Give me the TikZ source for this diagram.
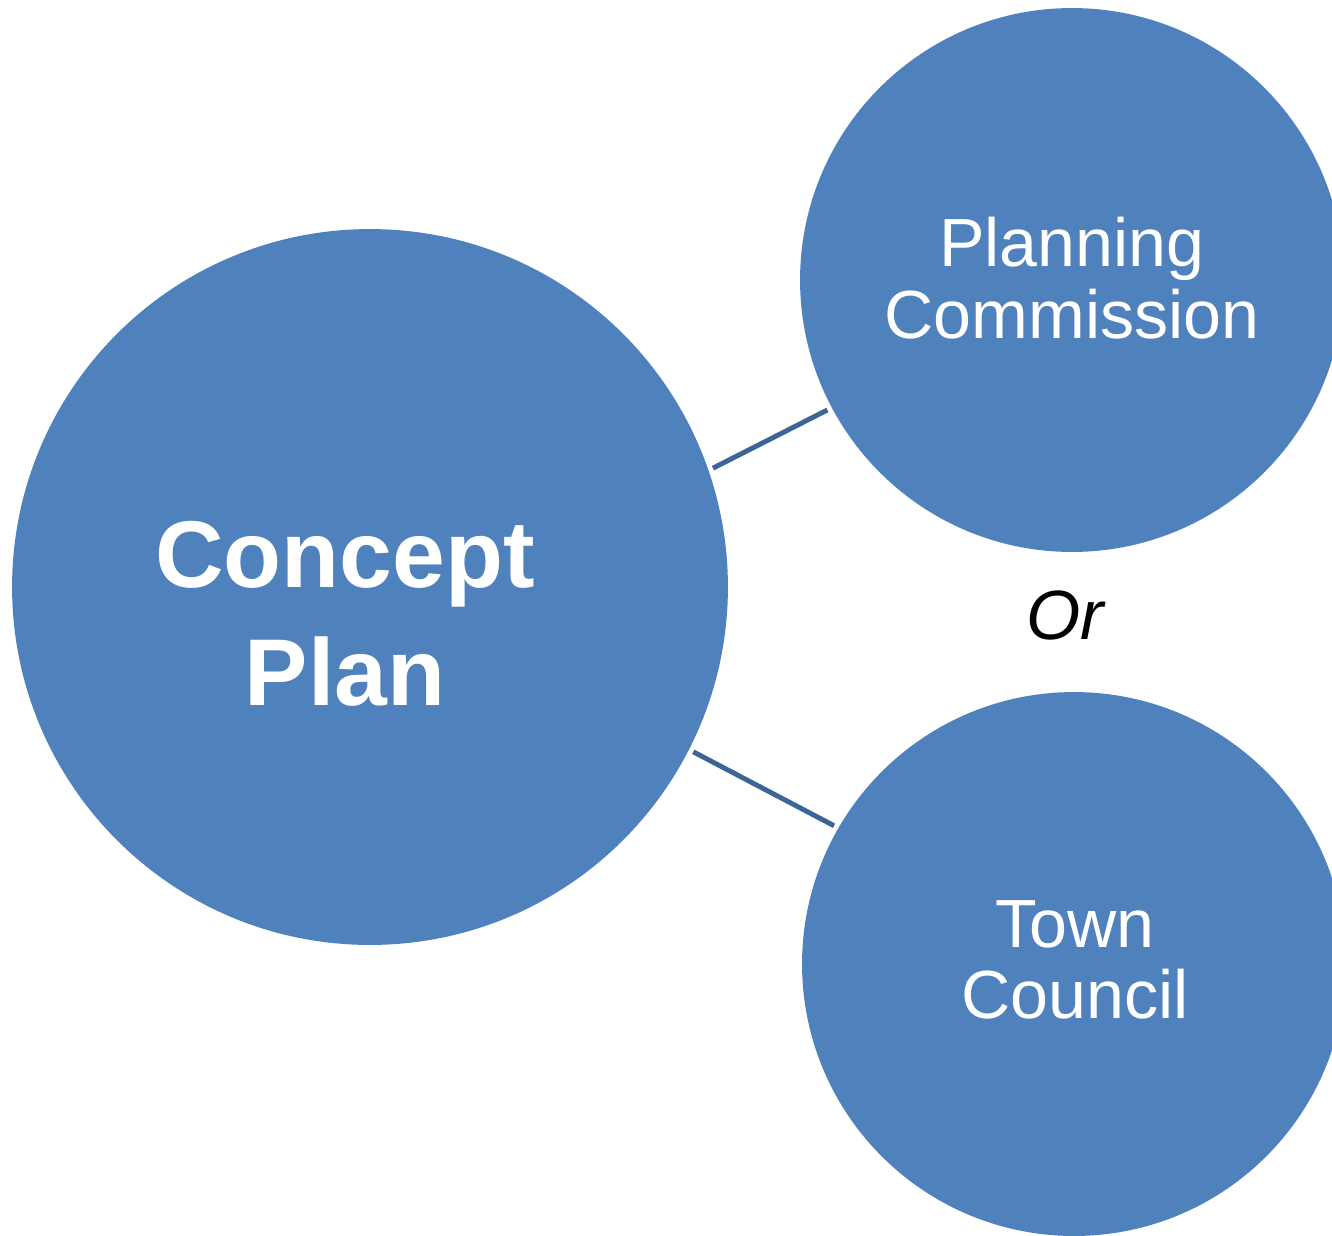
\documentclass[tikz,border=0pt]{standalone}
\usepackage{fontspec}
\setmainfont{Liberation Sans}
\definecolor{BubbleClr}{HTML}{4F81BD}
\definecolor{LinkClr}{HTML}{3B6497}
\tikzset{
  bubble/.style={circle,fill=BubbleClr,inner sep=0pt,outer sep=0pt},
  bubtext/.style={text=white,align=center,inner sep=0pt},
  link/.style={draw=LinkClr,line width=2.8pt,shorten <=0.1cm,shorten >=0.1cm}
}

\begin{document}
\begin{tikzpicture}[x=0.02cm,y=-0.02cm]
\clip (0,0) rectangle (1332,1235);

\node[bubble,minimum size=14.32cm] (cp) at (370,587) {};
\node[bubble,minimum size=10.88cm] (pc) at (1072,280) {};
\node[bubble,minimum size=10.88cm] (tc) at (1074,964) {};

\node[bubtext,font=\fontsize{54}{67}\selectfont\bfseries] (cpText) at (345,614) {Concept\\Plan};
\node[bubtext,font=\fontsize{38.8}{40.8}\selectfont] (pcText) at (1072,278) {Planning\\Commission};
\node[bubtext,font=\fontsize{38.8}{40.8}\selectfont] (tcText) at (1075,960) {Town\\Council};
\node[inner sep=0pt,font=\fontsize{39.7}{45}\selectfont\itshape] (or) at (1065,615) {Or};

\draw[link] (cp.19) -- (pc.208);
\draw[link] (cp.-27.3) -- (tc.150.8);

\end{tikzpicture}
\end{document}
